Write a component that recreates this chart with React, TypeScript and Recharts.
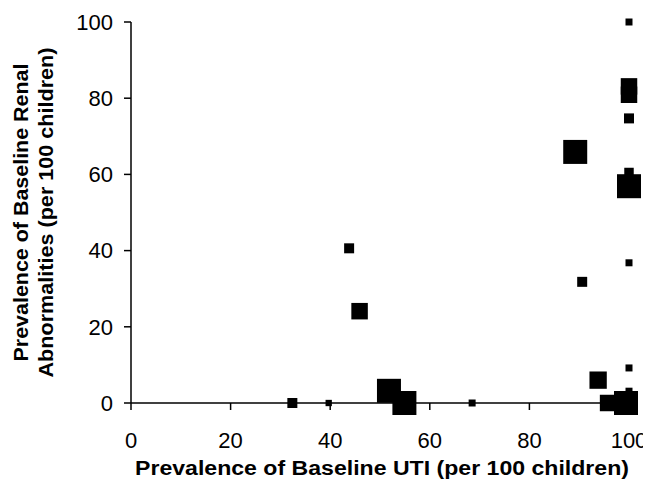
import { ScatterChart, Scatter, XAxis, YAxis, ZAxis } from "recharts"

// baseline UTI prevalence (x), renal abnormality prevalence (y), relative study weight (marker area)
const utiPrevalence = [100, 100, 100, 100, 89.2, 100, 100, 43.8, 100, 90.6, 45.9, 100, 93.8, 51.8, 100, 32.4, 39.7, 54.9, 68.5, 95.8, 99.4]
const renalPrevalence = [100, 83.1, 80.9, 74.7, 65.9, 60.5, 56.9, 40.6, 36.8, 31.8, 24.1, 9.2, 6.0, 3.2, 3.1, 0, 0, 0, 0, 0, 0]
const studyWeight = [49, 272, 272, 100, 576, 90, 576, 100, 49, 100, 272, 49, 300, 576, 49, 100, 40, 576, 49, 272, 576]

const axisTicks = [0, 20, 40, 60, 80, 100]

const xTitle = "Prevalence of Baseline UTI (per 100 children)"
const yTitleLines = ["Prevalence of Baseline Renal", "Abnormalities (per 100 children)"]

const data = utiPrevalence.map((x, i) => ({ x, y: renalPrevalence[i], z: studyWeight[i] }))

const FONT = "'Liberation Sans', Arial, sans-serif"

function XTitle(props: any) {
  const vb = props.viewBox
  return (
    <text
      x={vb.x + vb.width / 2 + 2}
      y={vb.y + 72}
      textAnchor="middle"
      fontFamily={FONT}
      fontWeight="bold"
      fontSize={20}
      fill="#000"
      textLength={494}
      lengthAdjust="spacingAndGlyphs"
    >
      {xTitle}
    </text>
  )
}

function YTitle(props: any) {
  const vb = props.viewBox
  const cy = vb.y + vb.height / 2
  return (
    <g fontFamily={FONT} fontWeight="bold" fontSize={20} fill="#000">
      <text
        transform={`translate(20, ${cy}) rotate(-90)`}
        textAnchor="middle"
        textLength={298}
        lengthAdjust="spacingAndGlyphs"
      >
        {yTitleLines[0]}
      </text>
      <text
        transform={`translate(45, ${cy}) rotate(-90)`}
        textAnchor="middle"
        textLength={330}
        lengthAdjust="spacingAndGlyphs"
      >
        {yTitleLines[1]}
      </text>
    </g>
  )
}

export default function App() {
  const tickStyle = { fill: "#000", fontSize: 22, fontFamily: FONT }
  return (
    <ScatterChart width={643} height={472} margin={{ top: 14, right: 22, left: 0, bottom: 0 }}>
      <XAxis
        type="number"
        dataKey="x"
        domain={[0, 100]}
        ticks={axisTicks}
        height={77}
        stroke="#000"
        strokeWidth={1.5}
        tickSize={7}
        tickMargin={22}
        tick={tickStyle}
        tickLine={{ stroke: "#000", strokeWidth: 1.5 }}
        label={{ content: XTitle }}
      />
      <YAxis
        type="number"
        dataKey="y"
        domain={[0, 100]}
        ticks={axisTicks}
        width={123}
        stroke="#000"
        strokeWidth={1.5}
        tickSize={7}
        tickMargin={11}
        tick={tickStyle}
        tickLine={{ stroke: "#000", strokeWidth: 1.5 }}
        label={{ content: YTitle }}
      />
      <ZAxis type="number" dataKey="z" domain={[0, 600]} range={[0, 600]} />
      <Scatter data={data} shape="square" fill="#000" isAnimationActive={false} />
    </ScatterChart>
  )
}
